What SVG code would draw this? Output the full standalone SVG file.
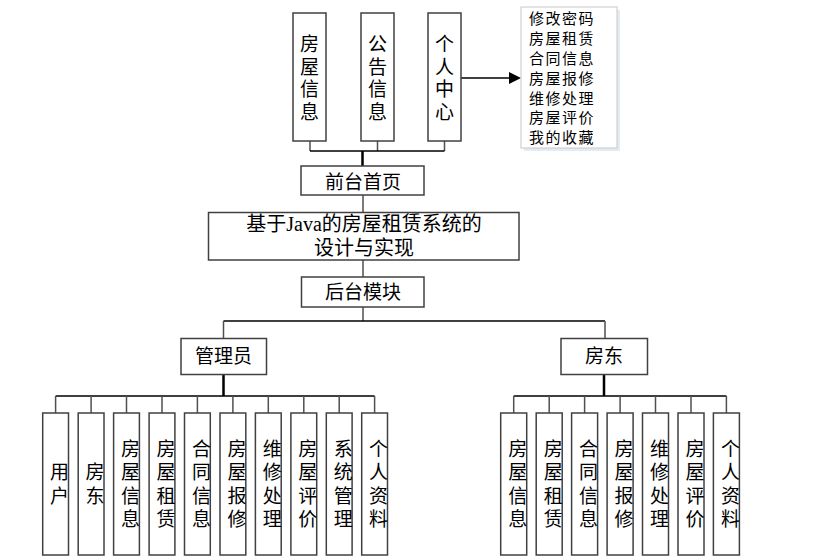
<svg xmlns="http://www.w3.org/2000/svg" width="835" height="560" viewBox="0 0 835 560">
<style>
.box{fill:#fff;stroke:#404040;stroke-width:1.5}
.t{font-family:"Noto Sans CJK SC","Liberation Sans",sans-serif;font-size:19px;fill:#000;text-anchor:middle}
.tt{font-family:"Liberation Serif","Noto Sans CJK SC",serif;font-size:20px;fill:#000;text-anchor:middle}
.ls{font-family:"Noto Sans CJK SC","Liberation Sans",sans-serif;font-size:15px;fill:#000;letter-spacing:1.5px}
.c{fill:none;stroke:#000;stroke-width:1.5}
.cg{fill:none;stroke:#505050;stroke-width:1.5}
.ck{fill:none;stroke:#000;stroke-width:2.5}
</style>
<rect width="835" height="560" fill="#fff"/>
<g id="connectors">
<path class="cg" d="M310 141V151M377.5 141V151M444.5 141V151"/>
<path class="c" d="M310 151H444.5"/>
<path class="ck" d="M362.5 151V166"/>
<path class="cg" d="M363 195V212.5M363 260V277M363 307V321"/>
<path class="c" d="M223.5 321H605"/>
<path class="cg" d="M223.5 321V338.5M605 321V338.5"/>
<path class="ck" d="M223.5 374.5V396M604 374.5V396"/>
<path class="c" d="M55.6 396H374.6M513.7 396H726.4"/>
<path class="cg" d="M55.6 396V413M91.1 396V413M126.5 396V413M162 396V413M197.4 396V413M232.9 396V413M268.3 396V413M303.8 396V413M339.2 396V413M374.6 396V413"/>
<path class="cg" d="M513.7 396V413M549.2 396V413M584.6 396V413M620.1 396V413M655.5 396V413M691 396V413M726.4 396V413"/>
<line class="c" x1="461" y1="78" x2="511" y2="78" stroke-width="2"/>
<polygon points="521,78 509,72 509,84" fill="#000"/>
</g>
<g id="n-fwxx"><rect class="box" x="293" y="13" width="33" height="128"/>
<text class="t" font-size="20"><tspan x="309.5" y="51">房</tspan><tspan x="309.5" y="73.5">屋</tspan><tspan x="309.5" y="96">信</tspan><tspan x="309.5" y="119">息</tspan></text></g>
<g id="n-ggxx"><rect class="box" x="361" y="13" width="33" height="128"/>
<text class="t" font-size="20"><tspan x="377.5" y="51">公</tspan><tspan x="377.5" y="73.5">告</tspan><tspan x="377.5" y="96">信</tspan><tspan x="377.5" y="119">息</tspan></text></g>
<g id="n-grzx"><rect class="box" x="428" y="13" width="33" height="128"/>
<text class="t" font-size="20"><tspan x="444.5" y="51">个</tspan><tspan x="444.5" y="73.5">人</tspan><tspan x="444.5" y="96">中</tspan><tspan x="444.5" y="119">心</tspan></text></g>
<g id="n-list">
<rect x="524" y="10" width="96" height="141" fill="#e3ebf3"/>
<rect x="521" y="7" width="96" height="141" fill="#fff" stroke="#c8c8c8" stroke-width="1"/>
<text class="ls"><tspan x="529" y="23.5">修改密码</tspan><tspan x="529" y="43.5">房屋租赁</tspan><tspan x="529" y="63.5">合同信息</tspan><tspan x="529" y="83.5">房屋报修</tspan><tspan x="529" y="103.5">维修处理</tspan><tspan x="529" y="123">房屋评价</tspan><tspan x="529" y="143">我的收藏</tspan></text>
</g>
<g id="n-qtsy"><rect class="box" x="301" y="166" width="123" height="29"/><text class="t" x="363" y="188.5">前台首页</text></g>
<g id="n-main"><rect class="box" x="208.5" y="212.5" width="310.5" height="47.5"/>
<text class="tt"><tspan x="364" y="231">基于Java的房屋租赁系统的</tspan><tspan x="364" y="255">设计与实现</tspan></text></g>
<g id="n-htmk"><rect class="box" x="301.5" y="277" width="122.5" height="30"/><text class="t" x="363" y="298.5">后台模块</text></g>
<g id="n-admin"><rect class="box" x="181" y="338.5" width="85.5" height="36"/><text class="t" x="223.5" y="363">管理员</text></g>
<g id="n-landlord"><rect class="box" x="561" y="338.5" width="86.5" height="36"/><text class="t" x="604" y="363">房东</text></g>
<g id="a1"><rect class="box" x="42.7" y="413" width="25.8" height="142"/><text class="t"><tspan x="59.5" y="479">用</tspan><tspan x="59.5" y="502.5">户</tspan></text></g>
<g id="a2"><rect class="box" x="78.2" y="413" width="25.8" height="142"/><text class="t"><tspan x="95" y="479">房</tspan><tspan x="95" y="502.5">东</tspan></text></g>
<g id="a3"><rect class="box" x="113.6" y="413" width="25.8" height="142"/><text class="t"><tspan x="130.5" y="455.5">房</tspan><tspan x="130.5" y="479">屋</tspan><tspan x="130.5" y="502.5">信</tspan><tspan x="130.5" y="526">息</tspan></text></g>
<g id="a4"><rect class="box" x="149.1" y="413" width="25.8" height="142"/><text class="t"><tspan x="166" y="455.5">房</tspan><tspan x="166" y="479">屋</tspan><tspan x="166" y="502.5">租</tspan><tspan x="166" y="526">赁</tspan></text></g>
<g id="a5"><rect class="box" x="184.5" y="413" width="25.8" height="142"/><text class="t"><tspan x="201.4" y="455.5">合</tspan><tspan x="201.4" y="479">同</tspan><tspan x="201.4" y="502.5">信</tspan><tspan x="201.4" y="526">息</tspan></text></g>
<g id="a6"><rect class="box" x="220" y="413" width="25.8" height="142"/><text class="t"><tspan x="236.9" y="455.5">房</tspan><tspan x="236.9" y="479">屋</tspan><tspan x="236.9" y="502.5">报</tspan><tspan x="236.9" y="526">修</tspan></text></g>
<g id="a7"><rect class="box" x="255.4" y="413" width="25.8" height="142"/><text class="t"><tspan x="272.3" y="455.5">维</tspan><tspan x="272.3" y="479">修</tspan><tspan x="272.3" y="502.5">处</tspan><tspan x="272.3" y="526">理</tspan></text></g>
<g id="a8"><rect class="box" x="290.9" y="413" width="25.8" height="142"/><text class="t"><tspan x="307.8" y="455.5">房</tspan><tspan x="307.8" y="479">屋</tspan><tspan x="307.8" y="502.5">评</tspan><tspan x="307.8" y="526">价</tspan></text></g>
<g id="a9"><rect class="box" x="326.3" y="413" width="25.8" height="142"/><text class="t"><tspan x="343.2" y="455.5">系</tspan><tspan x="343.2" y="479">统</tspan><tspan x="343.2" y="502.5">管</tspan><tspan x="343.2" y="526">理</tspan></text></g>
<g id="a10"><rect class="box" x="361.7" y="413" width="25.8" height="142"/><text class="t"><tspan x="378.6" y="455.5">个</tspan><tspan x="378.6" y="479">人</tspan><tspan x="378.6" y="502.5">资</tspan><tspan x="378.6" y="526">料</tspan></text></g>
<g id="l1"><rect class="box" x="500.7" y="413" width="26" height="142"/><text class="t"><tspan x="517.7" y="455.5">房</tspan><tspan x="517.7" y="479">屋</tspan><tspan x="517.7" y="502.5">信</tspan><tspan x="517.7" y="526">息</tspan></text></g>
<g id="l2"><rect class="box" x="536.2" y="413" width="26" height="142"/><text class="t"><tspan x="553.2" y="455.5">房</tspan><tspan x="553.2" y="479">屋</tspan><tspan x="553.2" y="502.5">租</tspan><tspan x="553.2" y="526">赁</tspan></text></g>
<g id="l3"><rect class="box" x="571.6" y="413" width="26" height="142"/><text class="t"><tspan x="588.6" y="455.5">合</tspan><tspan x="588.6" y="479">同</tspan><tspan x="588.6" y="502.5">信</tspan><tspan x="588.6" y="526">息</tspan></text></g>
<g id="l4"><rect class="box" x="607.1" y="413" width="26" height="142"/><text class="t"><tspan x="624.1" y="455.5">房</tspan><tspan x="624.1" y="479">屋</tspan><tspan x="624.1" y="502.5">报</tspan><tspan x="624.1" y="526">修</tspan></text></g>
<g id="l5"><rect class="box" x="642.5" y="413" width="26" height="142"/><text class="t"><tspan x="659.5" y="455.5">维</tspan><tspan x="659.5" y="479">修</tspan><tspan x="659.5" y="502.5">处</tspan><tspan x="659.5" y="526">理</tspan></text></g>
<g id="l6"><rect class="box" x="678" y="413" width="26" height="142"/><text class="t"><tspan x="695" y="455.5">房</tspan><tspan x="695" y="479">屋</tspan><tspan x="695" y="502.5">评</tspan><tspan x="695" y="526">价</tspan></text></g>
<g id="l7"><rect class="box" x="713.4" y="413" width="26" height="142"/><text class="t"><tspan x="730.4" y="455.5">个</tspan><tspan x="730.4" y="479">人</tspan><tspan x="730.4" y="502.5">资</tspan><tspan x="730.4" y="526">料</tspan></text></g>
</svg>
